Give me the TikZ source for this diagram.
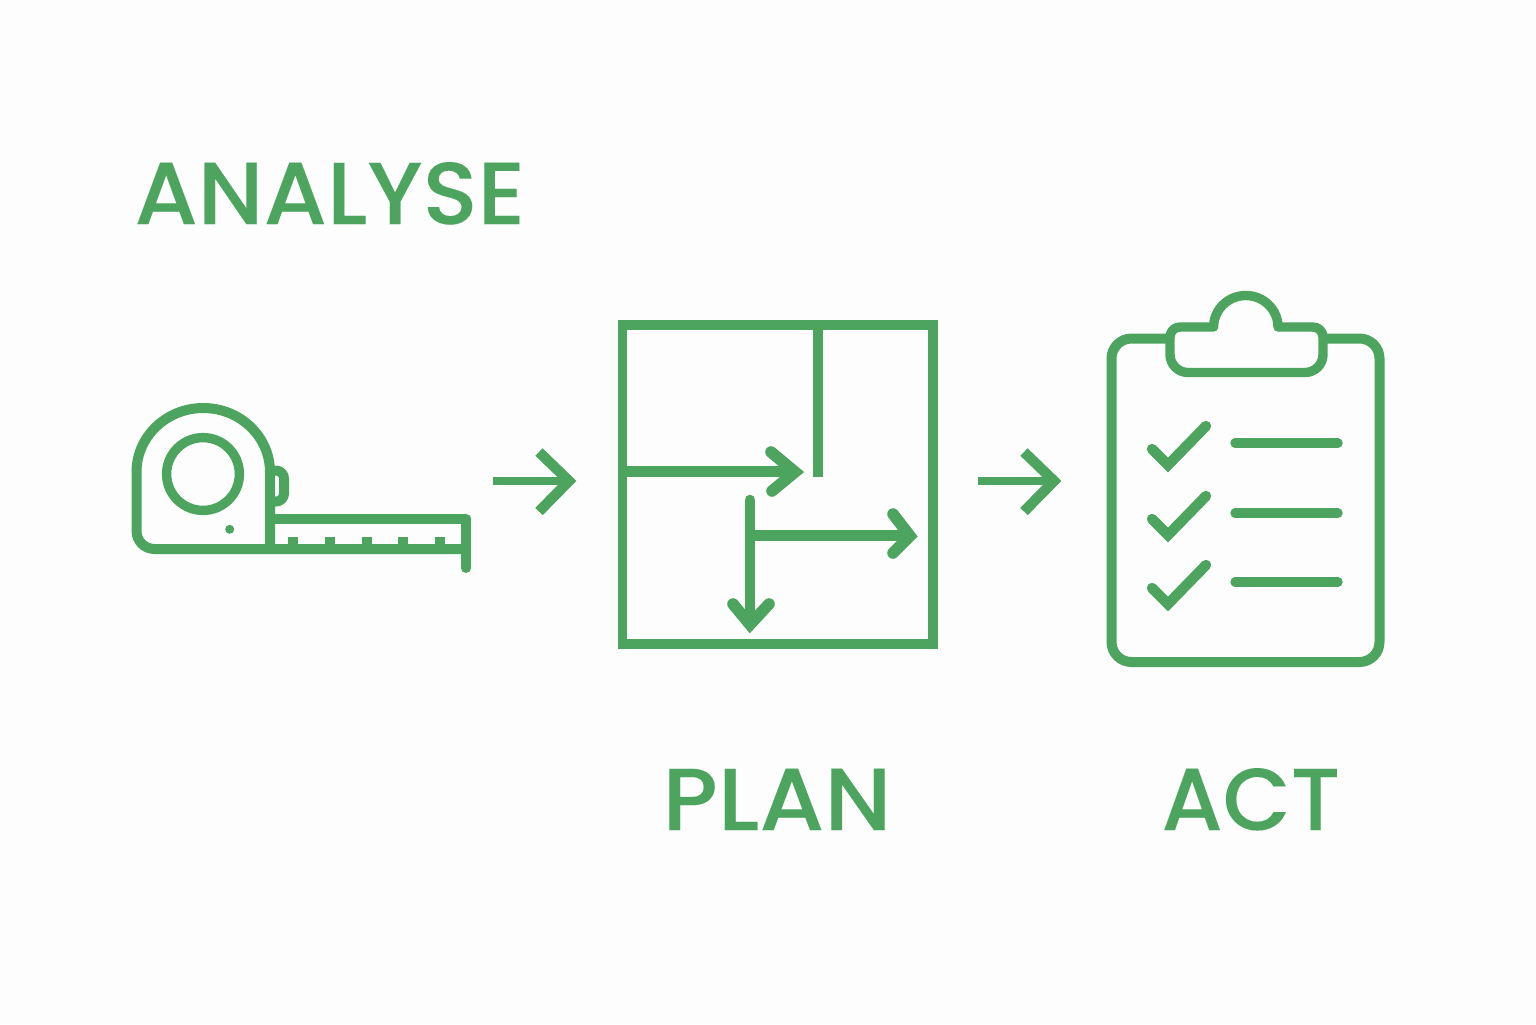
\documentclass[tikz,border=0pt]{standalone}
\usepackage{fontspec}
\setmainfont{Poppins}[UprightFont=* Medium,RawFeature={embolden=0.1}]
\definecolor{gr}{RGB}{76,164,94}
\definecolor{bgc}{RGB}{253,253,253}
\tikzset{
 ln/.style={draw=gr,line width=5pt,line join=round},
 thin/.style={draw=gr,line width=4.7pt,line join=round,line cap=round},
 shaft/.style={draw=gr,line width=5.3pt},
 head/.style={draw=gr,line width=5.8pt,line join=miter,line cap=round,miter limit=10},
 flow/.style={draw=gr,line width=4.2pt},
 flowhead/.style={draw=gr,line width=5.2pt,line join=miter,miter limit=10},
 lab/.style={text=gr,font=\fontsize{44}{44}\selectfont,inner sep=0pt,anchor=base west}
}
\begin{document}
\begin{tikzpicture}[x=0.5pt,y=-0.5pt]
\fill[bgc] (0,0) rectangle (1536,1024);
\useasboundingbox (0,0) rectangle (1536,1024);
% labels
\node[lab] (analyse) at (134,224) {\scalebox{1.035}[1]{ANALYSE}};
\node[lab] (plan) at (662,830) {\scalebox{1.06}[1]{PLAN}};
\node[lab] (act) at (1161,830) {ACT};
% tape
\draw[ln] (270,549) -- (270,472) arc[start angle=0,end angle=-180,x radius=66.75,y radius=64] -- (136.5,531) arc[start angle=180,end angle=90,radius=18] -- (466,549);
\draw[ln] (270,518.5) -- (466,518.5) -- (466,549);
\draw[ln,line cap=round] (466,549) -- (466,568);
\draw[ln] (270,470.5) -- (276,470.5) arc[start angle=-90,end angle=0,radius=8] -- (284,493.5) arc[start angle=0,end angle=90,radius=8] -- (270,501.5);
\draw[draw=gr,line width=4.7pt] (203,474) circle[radius=36.4];
\fill[gr] (229.7,529.3) circle[radius=4.5];
\foreach \x in {293,330,367,403,440}{\fill[gr] (\x-5,537) rectangle (\x+5,549);}
% plan
\draw[draw=gr,line width=4.6pt,line join=miter] (622.5,325) rectangle (933,644);
\draw[ln] (818,325) -- (818,477);
\draw[shaft] (622,471.5) -- (790,471.5);
\draw[head] (771,452) -- (795,472) -- (772,491);
\draw[shaft,line cap=round] (750,500) -- (750,620);
\draw[head] (733,604) -- (750,624.5) -- (769,604);
\draw[shaft] (750,535.5) -- (905,535.5);
\draw[head] (893,514) -- (910,536) -- (893,553);
% flow arrows
\coordinate (a1s) at (493,481);
\coordinate (a1e) at (566,481);
\coordinate (a2s) at (978,481);
\coordinate (a2e) at (1051,481);
\draw[flow] (a1s) -- (a1e);
\draw[flowhead] (539,452) -- (569,481) -- (539,511.5);
\draw[flow] (a2s) -- (a2e);
\draw[flowhead] (1024,452) -- (1054,481) -- (1024,511.5);
% clipboard
\draw[ln] (1170,338.5) -- (1131.5,338.5) arc[start angle=-90,end angle=-180,radius=20] -- (1111.5,642) arc[start angle=180,end angle=90,radius=20] -- (1359.5,662) arc[start angle=90,end angle=0,radius=20] -- (1379.5,358.5) arc[start angle=0,end angle=-90,radius=20] -- (1323,338.5);
\draw[draw=gr,line width=4.7pt,line join=round] (1213.7,327) -- (1180,327) arc[start angle=-90,end angle=-180,radius=10] -- (1170,354.5) arc[start angle=180,end angle=90,radius=18] -- (1305,372.5) arc[start angle=90,end angle=0,radius=18] -- (1323,337) arc[start angle=0,end angle=-90,radius=10] -- (1278,327) arc[start angle=0,end angle=-180,x radius=32.2,y radius=31.5] -- cycle;
\foreach \y in {0,70,139}{
 \draw[head,line width=5.2pt] (1152,449+\y) -- (1168,465+\y) -- (1206,426+\y);
 \draw[thin] (1235,443+\y) -- (1338,443+\y);
}
\end{tikzpicture}
\end{document}
